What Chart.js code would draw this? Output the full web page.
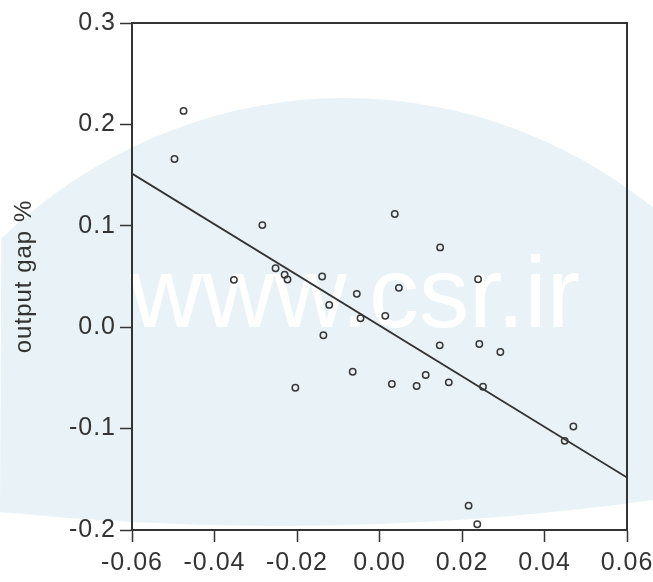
<!DOCTYPE html>
<html>
<head>
<meta charset="utf-8">
<script src="https://cdn.jsdelivr.net/npm/chart.js@4/dist/chart.umd.min.js"></script>
<style>
  html, body { margin: 0; padding: 0; background: #ffffff; }
  canvas { display: block; }
</style>
</head>
<body>
<canvas id="c" width="653" height="582"></canvas>
<script>
// ---- data ----
const xValues = [-0.0475, -0.0497, -0.0284, -0.0353, -0.0252, -0.0230, -0.0223, -0.0139, -0.0055, -0.0122,
                 -0.0046, 0.0037, 0.0147, 0.0239, 0.0047, 0.0014, -0.0136, 0.0146, 0.0242, 0.0293,
                 -0.0065, 0.0112, 0.0030, 0.0090, 0.0168, 0.0251, -0.0204, 0.0470, 0.0449, 0.0216, 0.0237];
const yValues = [0.2133, 0.1659, 0.1007, 0.0467, 0.0582, 0.0517, 0.0470, 0.0500, 0.0329, 0.0220,
                 0.0088, 0.1116, 0.0787, 0.0473, 0.0388, 0.0112, -0.0080, -0.0179, -0.0165, -0.0244,
                 -0.0439, -0.0471, -0.0560, -0.0580, -0.0544, -0.0587, -0.0597, -0.0979, -0.1121, -0.1760, -0.1944];
const fitX = [-0.06, 0.06];
const fitY = [0.1515, -0.1483];
const xTicks = [-0.06, -0.04, -0.02, 0.00, 0.02, 0.04, 0.06];
const xTickLabels = ["-0.06", "-0.04", "-0.02", "0.00", "0.02", "0.04", "0.06"];
const yTicks = [-0.2, -0.1, 0.0, 0.1, 0.2, 0.3];
const yTickLabels = ["-0.2", "-0.1", "0.0", "0.1", "0.2", "0.3"];
const yTitle = "output gap %";
const watermark = "www.csr.ir";

const ink = '#333333';
const tickFont = { family: "'Liberation Sans', Arial, sans-serif", size: 25 };

function labelFor(ticksArr, labelsArr, v) {
  let best = 0;
  for (let i = 1; i < ticksArr.length; i++) {
    if (Math.abs(ticksArr[i] - v) < Math.abs(ticksArr[best] - v)) best = i;
  }
  return labelsArr[best];
}

const backdrop = {
  id: 'backdrop',
  beforeDraw(chart) {
    const ctx = chart.ctx;
    ctx.save();
    ctx.letterSpacing = '0px';
    ctx.fillStyle = '#ffffff';
    ctx.fillRect(0, 0, chart.width, chart.height);
    // light blue watermark disc
    ctx.beginPath();
    ctx.moveTo(0, 512);
    ctx.quadraticCurveTo(330, 545, 653, 500);
    ctx.lineTo(653, 215);
    ctx.ellipse(345, 661, 520, 563, 0, -0.937, -2.293, true);
    ctx.closePath();
    ctx.fillStyle = 'rgb(233,243,247)';
    ctx.fill();
    ctx.font = "100px 'Liberation Sans', Arial, sans-serif";
    ctx.fillStyle = '#ffffff';
    ctx.textAlign = 'right';
    ctx.textBaseline = 'alphabetic';
    ctx.fillText(watermark, 580, 327);
    ctx.restore();
    ctx.letterSpacing = '1px';
  },
  afterDatasetsDraw(chart) {
    const a = chart.chartArea;
    const ctx = chart.ctx;
    ctx.save();
    ctx.strokeStyle = ink;
    ctx.lineWidth = 2;
    ctx.beginPath();
    ctx.moveTo(a.left, a.top);
    ctx.lineTo(a.right, a.top);
    ctx.lineTo(a.right, a.bottom);
    ctx.stroke();
    ctx.restore();
  }
};

new Chart(document.getElementById('c'), {
  type: 'scatter',
  data: {
    datasets: [
      {
        type: 'line',
        data: fitX.map((x, i) => ({ x: x, y: fitY[i] })),
        borderColor: ink,
        borderWidth: 1.8,
        pointRadius: 0,
        fill: false,
        tension: 0
      },
      {
        data: xValues.map((x, i) => ({ x: x, y: yValues[i] })),
        pointStyle: 'circle',
        pointRadius: 3.2,
        pointBorderWidth: 1.5,
        borderColor: '#383838',
        backgroundColor: 'rgba(0,0,0,0)',
        pointBackgroundColor: 'rgba(0,0,0,0)'
      }
    ]
  },
  options: {
    responsive: false,
    animation: false,
    devicePixelRatio: 1,
    layout: { padding: { left: 0, right: 26, top: 23, bottom: 0 } },
    plugins: { legend: { display: false }, tooltip: { enabled: false } },
    scales: {
      x: {
        type: 'linear',
        min: -0.06, max: 0.06,
        afterBuildTicks(scale) { scale.ticks = xTicks.map(v => ({ value: v })); },
        afterFit(scale) { scale.height = 52; scale.paddingLeft = 0; scale.paddingRight = 0; },
        grid: { drawOnChartArea: false, drawTicks: true, tickLength: 12, tickWidth: 1.5, tickColor: ink, color: ink },
        border: { display: true, color: ink, width: 2 },
        ticks: {
          color: ink, font: tickFont, padding: 6, maxRotation: 0, autoSkip: false,
          callback: (v) => labelFor(xTicks, xTickLabels, v)
        }
      },
      y: {
        type: 'linear',
        min: -0.2, max: 0.3,
        afterBuildTicks(scale) { scale.ticks = yTicks.map(v => ({ value: v })); },
        afterFit(scale) { scale.width = 132; scale.paddingTop = 0; scale.paddingBottom = 0; },
        grid: { drawOnChartArea: false, drawTicks: true, tickLength: 12, tickWidth: 1.5, tickColor: ink, color: ink },
        border: { display: true, color: ink, width: 2 },
        ticks: {
          color: ink, font: tickFont, padding: 4, autoSkip: false,
          callback: (v) => labelFor(yTicks, yTickLabels, v)
        },
        title: {
          display: true, text: yTitle, color: ink,
          font: { family: "'Liberation Sans', Arial, sans-serif", size: 24 },
          padding: { top: 10, bottom: 0 }
        }
      }
    }
  },
  plugins: [backdrop]
});
</script>
</body>
</html>
